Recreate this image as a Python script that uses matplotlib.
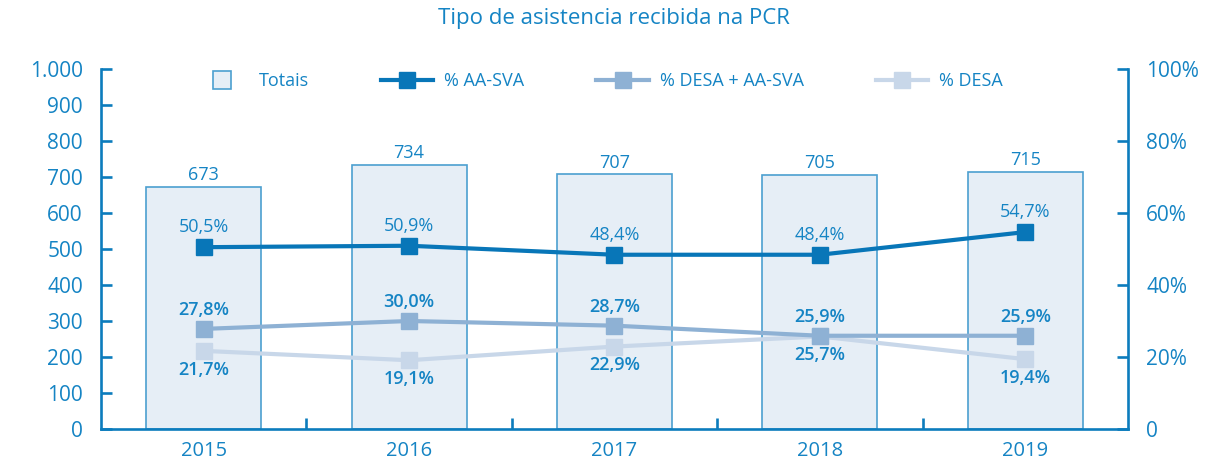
import numpy as np
import matplotlib
matplotlib.use("Agg")
import matplotlib.pyplot as plt
from matplotlib.lines import Line2D

plt.rcParams["font.family"] = ["Open Sans", "DejaVu Sans"]

years = ["2015", "2016", "2017", "2018", "2019"]
totais = [673, 734, 707, 705, 715]
aa_sva = [50.5, 50.9, 48.4, 48.4, 54.7]
desa_aa_sva = [27.8, 30.0, 28.7, 25.9, 25.9]
desa = [21.7, 19.1, 22.9, 25.7, 19.4]

c_text = '#1584C4'
c_axis = '#0C7CBD'
c_dark = '#0876B8'
c_mid = '#8EB1D4'
c_light = '#C8D7E9'
c_bar = '#E6EEF6'
c_edge = '#4C9FD0'

def pct(v):
    return ("%.1f%%" % v).replace(".", ",")

fig = plt.figure(figsize=(12.27, 4.66), dpi=100)
ax = fig.add_axes([0.0823, 0.0794, 0.8370, 0.7726])
ax2 = ax.twinx()

x = np.arange(len(years))
ax.bar(x, totais, width=0.56, color=c_bar, edgecolor=c_edge, linewidth=1.2, zorder=1)
for xi, v in zip(x, totais):
    ax.annotate(str(v), (xi, v), xytext=(0, 2), textcoords='offset points',
                ha='center', va='bottom', color=c_text, fontsize=13)

ax2.plot(x, np.array(aa_sva) / 100, '-s', color=c_dark, lw=3, ms=11, zorder=5)
ax2.plot(x, np.array(desa_aa_sva) / 100, '-s', color=c_mid, lw=3, ms=11, zorder=4)
ax2.plot(x, np.array(desa) / 100, '-s', color=c_light, lw=3, ms=11, zorder=3)

for xi, v in zip(x, aa_sva):
    ax2.annotate(pct(v), (xi, v / 100), xytext=(0, 8), textcoords='offset points',
                 ha='center', va='bottom', color=c_text, fontsize=13)
for xi, v in zip(x, desa_aa_sva):
    ax2.annotate(pct(v), (xi, v / 100), xytext=(0, 7), textcoords='offset points',
                 ha='center', va='bottom', color=c_text, fontsize=13, fontweight='semibold')
for xi, v in zip(x, desa):
    ax2.annotate(pct(v), (xi, v / 100), xytext=(0, -7), textcoords='offset points',
                 ha='center', va='top', color=c_text, fontsize=13, fontweight='semibold')

ax.set_xlim(-0.5, 4.5)
ax.set_ylim(0, 1000)
ax2.set_ylim(0, 1)
ax.set_yticks(np.arange(0, 1001, 100))
ax.set_yticklabels(["0", "100", "200", "300", "400", "500", "600", "700", "800", "900", "1.000"])
ax2.set_yticks(np.arange(0, 1.01, 0.2))
ax2.set_yticklabels(["0", "20%", "40%", "60%", "80%", "100%"])
ax.set_xticks(x)
ax.set_xticklabels(years)
ax.set_xticks(x[:-1] + 0.5, minor=True)

for a in [ax, ax2]:
    a.spines['top'].set_visible(False)
    for s in ['left', 'right', 'bottom']:
        a.spines[s].set_color(c_axis)
        a.spines[s].set_linewidth(1.9)
ax.spines['right'].set_visible(False)
ax2.spines['left'].set_visible(False)
ax2.spines['bottom'].set_visible(False)

ax.tick_params(axis='y', direction='in', length=8, width=1.9, color=c_axis,
               labelcolor=c_text, labelsize=15, pad=13)
ax2.tick_params(axis='y', direction='in', length=8, width=1.9, color=c_axis,
                labelcolor=c_text, labelsize=15, pad=13)
ax.tick_params(axis='x', which='major', length=0, labelcolor=c_text, labelsize=14.5, pad=9)
ax.tick_params(axis='x', which='minor', direction='in', length=8, width=1.9, color=c_axis)

handles = [
    Line2D([], [], marker='s', ls='none', ms=13, mfc=c_bar, mec=c_edge, mew=1.2),
    Line2D([], [], marker='s', color=c_dark, lw=3, ms=11),
    Line2D([], [], marker='s', color=c_mid, lw=3, ms=11),
    Line2D([], [], marker='s', color=c_light, lw=3, ms=11),
]
labels = ["Totais", "% AA-SVA", "% DESA + AA-SVA", "% DESA"]
leg = ax2.legend(handles, labels, loc='center', bbox_to_anchor=(0.485, 0.967), ncol=4,
                 frameon=False, fontsize=13, handlelength=2.9, columnspacing=4.0,
                 handletextpad=0.6, borderpad=0, borderaxespad=0)
for t in leg.get_texts():
    t.set_color(c_text)

fig.text(0.5, 0.96, "Tipo de asistencia recibida na PCR", ha='center', va='center',
         color=c_text, fontsize=16)

fig.savefig("out.png", dpi=100)
